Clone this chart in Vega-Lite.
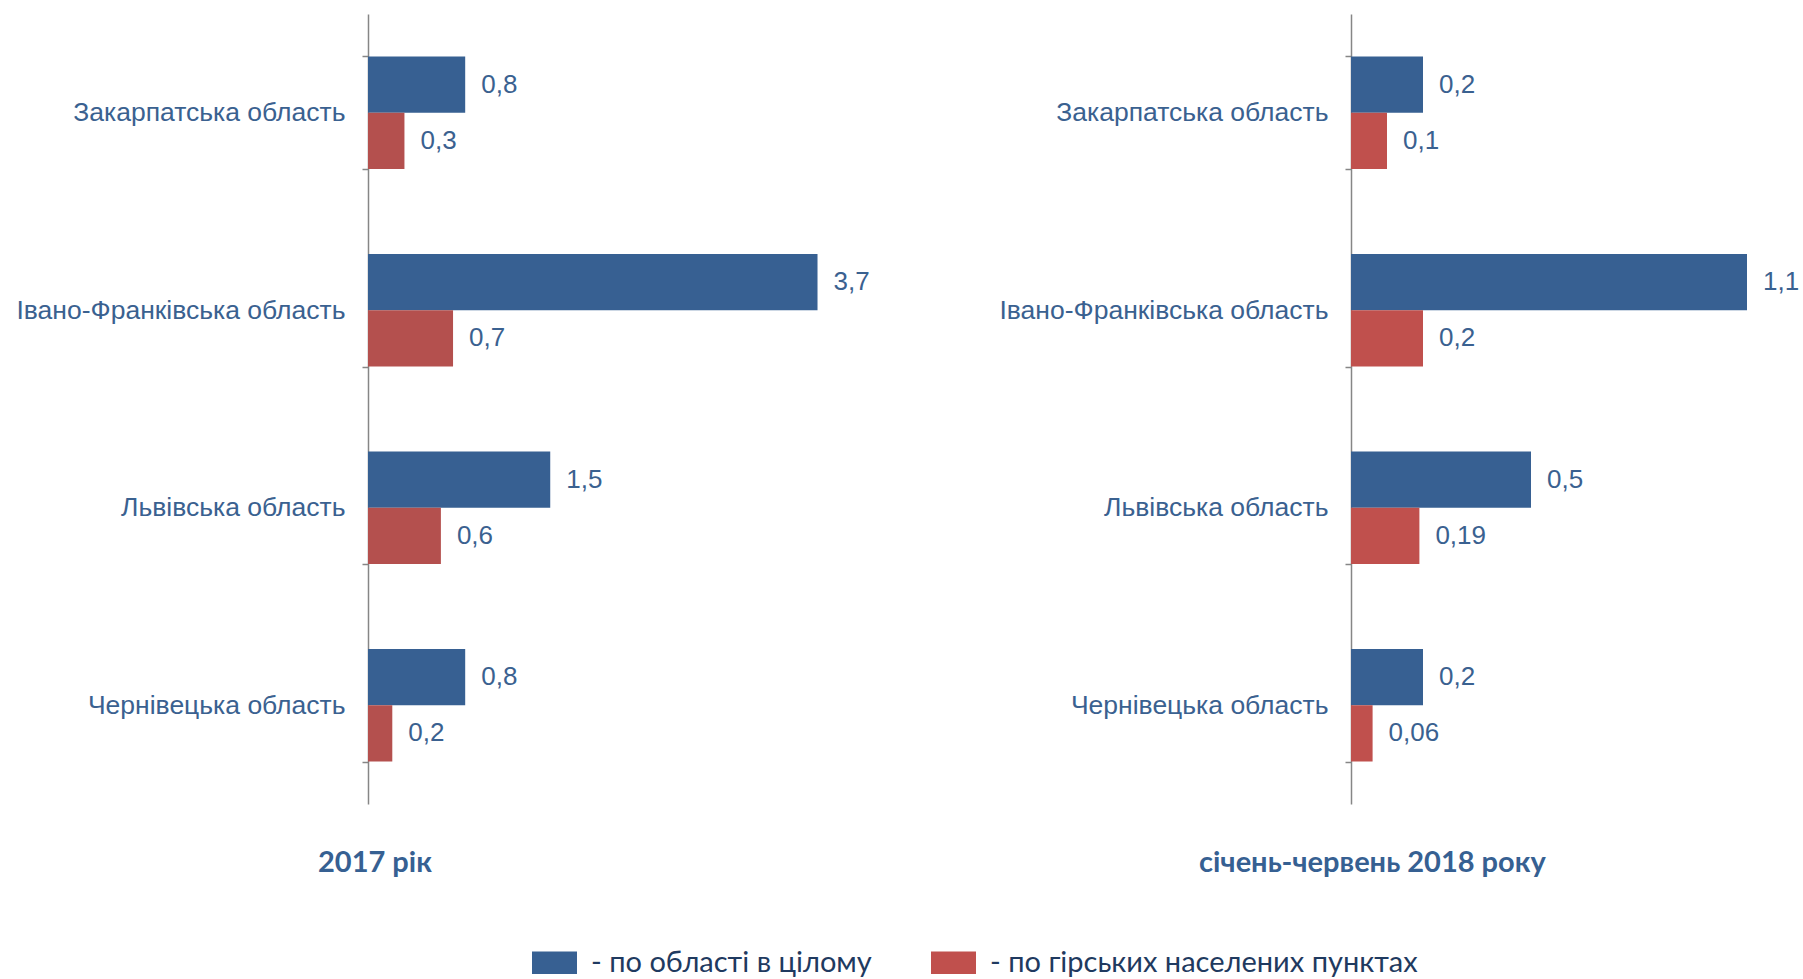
{
  "$schema": "https://vega.github.io/schema/vega-lite/v6.json",
  "padding": {"left": 15, "top": 1, "right": 0, "bottom": 0},
  "bounds": "flush",
  "spacing": 403,
  "config": {
    "locale": {"number": {"decimal": ",", "thousands": " ", "grouping": [3], "currency": ["", ""]}},
    "view": {"stroke": null},
    "axisY": {
      "title": null,
      "domainColor": "#868686",
      "domainWidth": 1.5,
      "tickColor": "#868686",
      "tickWidth": 1.5,
      "tickSize": 6,
      "tickBand": "extent",
      "labelFont": "Liberation Sans",
      "labelFontSize": 26.5,
      "labelColor": "#3A6190",
      "labelPadding": 17,
      "labelLimit": 500
    }
  },
  "datasets": {
    "bars": [
      {"period": "2017", "region": "Закарпатська область", "series": "по області в цілому", "value": 0.8},
      {"period": "2017", "region": "Закарпатська область", "series": "по гірських населених пунктах", "value": 0.3},
      {"period": "2017", "region": "Івано-Франківська область", "series": "по області в цілому", "value": 3.7},
      {"period": "2017", "region": "Івано-Франківська область", "series": "по гірських населених пунктах", "value": 0.7},
      {"period": "2017", "region": "Львівська область", "series": "по області в цілому", "value": 1.5},
      {"period": "2017", "region": "Львівська область", "series": "по гірських населених пунктах", "value": 0.6},
      {"period": "2017", "region": "Чернівецька область", "series": "по області в цілому", "value": 0.8},
      {"period": "2017", "region": "Чернівецька область", "series": "по гірських населених пунктах", "value": 0.2},
      {"period": "2018", "region": "Закарпатська область", "series": "по області в цілому", "value": 0.2},
      {"period": "2018", "region": "Закарпатська область", "series": "по гірських населених пунктах", "value": 0.1},
      {"period": "2018", "region": "Івано-Франківська область", "series": "по області в цілому", "value": 1.1},
      {"period": "2018", "region": "Івано-Франківська область", "series": "по гірських населених пунктах", "value": 0.2},
      {"period": "2018", "region": "Львівська область", "series": "по області в цілому", "value": 0.5},
      {"period": "2018", "region": "Львівська область", "series": "по гірських населених пунктах", "value": 0.19},
      {"period": "2018", "region": "Чернівецька область", "series": "по області в цілому", "value": 0.2},
      {"period": "2018", "region": "Чернівецька область", "series": "по гірських населених пунктах", "value": 0.06}
    ]
  },
  "resolve": {
    "scale": {"color": "shared", "fill": "independent", "x": "independent", "y": "independent", "yOffset": "independent"},
    "legend": {"color": "shared"}
  },
  "hconcat": [
    {
      "width": 580,
      "height": 790,
      "data": {"name": "bars"},
      "transform": [{"filter": "datum.period == '2017'"}],
      "title": {
        "text": "2017 рік",
        "orient": "bottom",
        "anchor": "start",
        "frame": "group",
        "dx": -50,
        "offset": 45,
        "font": "Lato",
        "fontSize": 29,
        "fontWeight": "bold",
        "color": "#366092"
      },
      "encoding": {
        "y": {
          "field": "region",
          "type": "nominal",
          "sort": null,
          "scale": {"paddingInner": 0.43, "paddingOuter": 0.215}
        },
        "yOffset": {
          "field": "series",
          "type": "nominal",
          "scale": {"domain": ["по області в цілому", "по гірських населених пунктах"]}
        },
        "x": {
          "field": "value",
          "type": "quantitative",
          "scale": {"domain": [0, 4.774], "nice": false},
          "axis": null
        }
      },
      "layer": [
        {
          "mark": {"type": "bar"},
          "encoding": {
            "fill": {
              "field": "series",
              "type": "nominal",
              "scale": {"domain": ["по області в цілому", "по гірських населених пунктах"], "range": ["#376092", "#B4504E"]},
              "legend": null
            }
          }
        },
        {
          "mark": {"type": "text", "align": "left", "baseline": "middle", "dx": 16, "font": "Liberation Sans", "fontSize": 26, "color": "#3A6190"},
          "encoding": {
            "text": {"field": "value", "type": "quantitative", "format": "~g"}
          }
        }
      ]
    },
    {
      "width": 450,
      "height": 790,
      "data": {"name": "bars"},
      "transform": [{"filter": "datum.period == '2018'"}],
      "title": {
        "text": "січень-червень 2018 року",
        "orient": "bottom",
        "anchor": "start",
        "frame": "group",
        "dx": -152,
        "offset": 45,
        "font": "Lato",
        "fontSize": 29,
        "fontWeight": "bold",
        "color": "#366092"
      },
      "encoding": {
        "y": {
          "field": "region",
          "type": "nominal",
          "sort": null,
          "scale": {"paddingInner": 0.43, "paddingOuter": 0.215}
        },
        "yOffset": {
          "field": "series",
          "type": "nominal",
          "scale": {"domain": ["по області в цілому", "по гірських населених пунктах"]}
        },
        "x": {
          "field": "value",
          "type": "quantitative",
          "scale": {"domain": [0, 1.25], "nice": false},
          "axis": null
        }
      },
      "layer": [
        {
          "mark": {"type": "bar"},
          "encoding": {
            "color": {
              "field": "series",
              "type": "nominal",
              "scale": {"domain": ["по області в цілому", "по гірських населених пунктах"], "range": ["#376092", "#C0504D"]},
              "legend": {
                "orient": "none",
                "legendX": 164,
                "legendY": 926,
                "direction": "horizontal",
                "title": null,
                "padding": 0,
                "symbolType": "M-1,-0.5H1V0.5H-1Z",
                "symbolSize": 2025,
                "symbolStrokeWidth": 0,
                "symbolOpacity": 1,
                "labelFont": "Lato",
                "labelFontSize": 29,
                "labelColor": "#1F3A60",
                "labelOffset": 14,
                "labelLimit": 600,
                "columnPadding": 59,
                "labelExpr": "'- ' + datum.label"
              }
            }
          }
        },
        {
          "mark": {"type": "text", "align": "left", "baseline": "middle", "dx": 16, "font": "Liberation Sans", "fontSize": 26, "color": "#3A6190"},
          "encoding": {
            "text": {"field": "value", "type": "quantitative", "format": "~g"}
          }
        }
      ]
    }
  ]
}
